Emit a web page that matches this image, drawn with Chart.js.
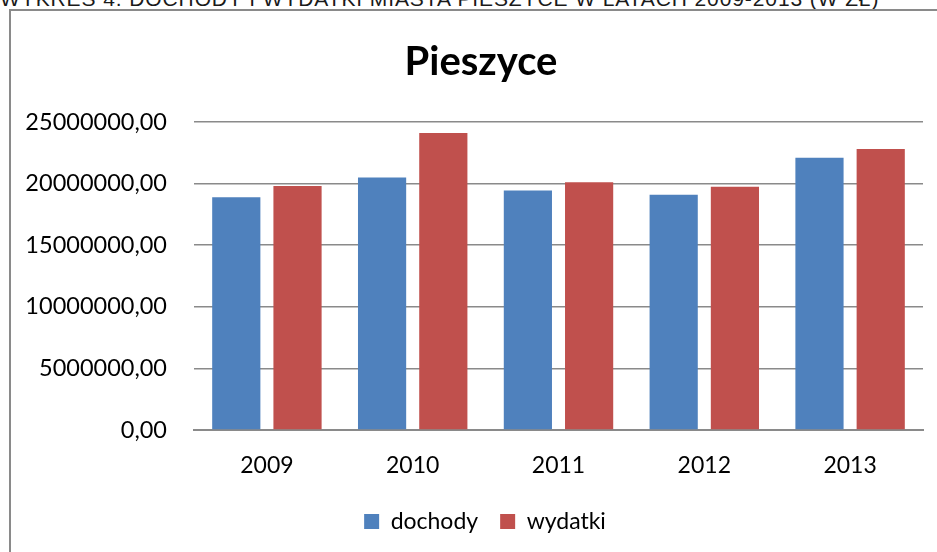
<!DOCTYPE html>
<html>
<head>
<meta charset="utf-8">
<script src="https://cdn.jsdelivr.net/npm/chart.js@4/dist/chart.umd.min.js"></script>
<style>
  html, body { margin: 0; padding: 0; background: #fff; width: 937px; height: 552px; overflow: hidden; }
  #caption { position: absolute; left: 0px; top: -12px; white-space: nowrap;
    font-family: "Liberation Sans Narrow", "Liberation Sans", sans-serif; font-size: 21px; line-height: 21px; color: #1a1a1a; letter-spacing: 0.9px; }
  #box { position: absolute; left: 9px; top: 9px; width: 930px; height: 545px;
    border-left: 2px solid #8a8a8a; border-top: 2px solid #8a8a8a; }
  #wrap { position: absolute; left: 2px; top: 2px; width: 926px; height: 541px; }
</style>
</head>
<body>
<div id="caption">WYKRES 4. DOCHODY I WYDATKI MIASTA PIESZYCE W LATACH 2009-2013 (W ZŁ)</div>
<div id="box"><div id="wrap"><canvas id="c"></canvas></div></div>
<script>
const categories = ["2009", "2010", "2011", "2012", "2013"];
const dochody = [18900000, 20500000, 19450000, 19100000, 22100000];
const wydatki = [19800000, 24100000, 20100000, 19750000, 22800000];
const seriesNames = ["dochody", "wydatki"];
const chartTitle = "Pieszyce";

const FONT = "Lato, 'Open Sans', sans-serif";

const shiftBlocks = {
  id: "shiftBlocks",
  afterLayout(chart) {
    if (chart.titleBlock) { chart.titleBlock.left += 13; chart.titleBlock.right += 13; }
    if (chart.legend) { chart.legend.left += 17; chart.legend.right += 17; }
  }
};

new Chart(document.getElementById("c"), {
  type: "bar",
  data: {
    labels: categories,
    datasets: [
      { label: seriesNames[0], data: dochody, backgroundColor: "#4F81BD", borderWidth: 0 },
      { label: seriesNames[1], data: wydatki, backgroundColor: "#C0504D", borderWidth: 0 }
    ]
  },
  plugins: [shiftBlocks],
  options: {
    responsive: true,
    maintainAspectRatio: false,
    animation: false,
    datasets: { bar: { categoryPercentage: 0.84, barPercentage: 0.787 } },
    layout: { padding: { left: 0, right: 16, top: 0, bottom: 11 } },
    plugins: {
      title: {
        display: true, text: chartTitle, color: "#000",
        font: { family: FONT, size: 40, weight: "bold" },
        padding: { top: 25, bottom: 36 }
      },
      legend: {
        position: "bottom",
        labels: {
          color: "#000", boxWidth: 15, boxHeight: 15, padding: 22,
          font: { family: FONT, size: 23 }
        }
      },
      tooltip: { enabled: false }
    },
    scales: {
      x: {
        afterFit: (s) => { s.height = 58; },
        grid: { display: false },
        border: { display: true, color: "#8a8a8a", width: 2 },
        ticks: { color: "#000", padding: 13.5, font: { family: FONT, size: 23 } }
      },
      y: {
        min: 0, max: 25000000,
        afterFit: (s) => { s.width = 181; },
        border: { display: false },
        grid: { color: "#8a8a8a", lineWidth: 1.5, drawTicks: false },
        ticks: {
          stepSize: 5000000, color: "#000", padding: 27,
          font: { family: FONT, size: 23.5 },
          callback: (v) => Number(v).toFixed(2).replace(".", ",")
        }
      }
    }
  }
});
</script>
</body>
</html>
